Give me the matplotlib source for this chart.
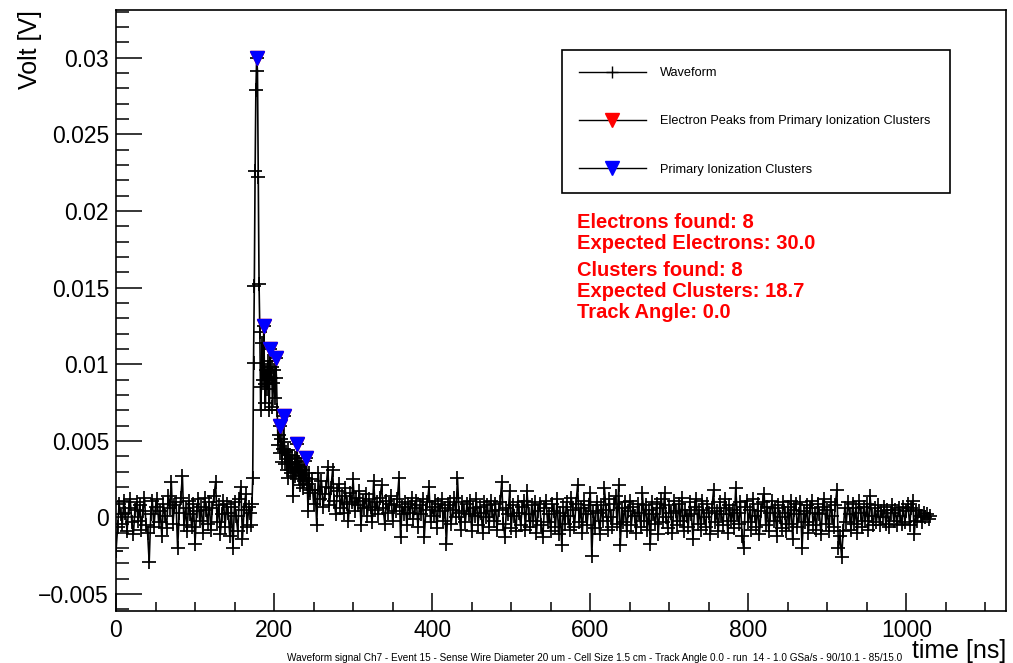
import matplotlib
matplotlib.use("Agg")
import matplotlib.pyplot as plt
import numpy as np
from matplotlib.lines import Line2D
from matplotlib.ticker import MultipleLocator, FuncFormatter

plt.rcParams['font.family'] = ['Liberation Sans', 'DejaVu Sans']

# waveform values in mV: 2 ns steps before/after the pulse, 1 ns steps around it
t_pre = np.arange(0, 170, 2)
v_pre = [
    -2.2, -0.6, 0.9, 0.2, -0.4, 1.1, 0.3, -0.9, 0.6, 1.2, -0.3, -1.1, 0.5, 1.0, -0.2, 0.8, -0.8, 0.4, 1.3, -0.5,
    -1.0, -2.9, 0.2, 1.1, -0.6, 0.7, 1.2, -0.3, 0.4, -1.2, 0.9, 0.1, -0.7, 1.4, 0.6, 2.3, -0.4, 0.8, 1.0, -2.0,
    0.3, 1.3, 2.7, -0.5, 0.6, -0.9, 1.1, 0.2, -0.6, 0.9, -1.7, 0.4, 1.2, -0.2, 0.7, -1.0, 1.3, 0.5, -0.4, 1.0,
    -0.8, 0.6, 1.4, 2.3, -0.3, 0.8, -1.1, 0.2, 1.1, -0.6, 0.9, 0.3, -1.2, 0.7, -2.0, 1.0, 0.1, -0.9, 1.2, 2.0,
    -1.4, 0.5, 1.5, -0.6, 0.7,
]
t_pulse = np.arange(170, 246, 1)
v_pulse = [
    0.3, -0.5, 0.9, 2.6, 10.1, 15.1, 22.6, 27.9, 30.0, 29.1,
    22.2, 15.2, 12.1, 7.0, 8.5, 11.4, 9.0, 12.5, 8.7, 7.5,
    9.6, 8.4, 10.2, 9.0, 7.0, 11.0, 9.1, 9.8, 7.2, 8.8,
    9.6, 7.8, 10.4, 9.1, 7.0, 4.7, 5.4, 6.0, 4.2, 5.1,
    3.6, 4.5, 6.6, 4.9, 3.5, 4.3, 3.1, 4.4, 2.6, 3.8,
    4.1, 2.9, 3.5, 4.0, 1.4, 3.2, 2.7, 3.9, 3.0, 4.8,
    3.3, 2.5, 3.6, 2.1, 3.4, 2.8, 1.9, 3.1, 2.4, 3.7,
    2.6, 3.9, 2.2, 0.4, 2.9, 1.8,
]
t_post = np.arange(246, 1031, 2)
v_post = [
    1.6, 2.5, 0.9, 1.8, -0.5, 2.9, 1.2, 2.4, 0.7, 1.5, 2.0, 3.3, 0.8, 1.9, 3.1, 1.1, 0.2, 1.7, 2.2, 0.6,
    1.4, 0.3, 1.9, 0.9, -0.2, 1.6, 1.0, 2.5, 0.4, 1.3, 0.8, 1.7, -0.5, 1.1, 0.6, 1.5, 0.1, 1.2, 0.7, -0.3,
    2.4, 0.5, 1.0, 0.2, 1.3, 2.1, 0.6, -0.4, 1.1, 0.3, 0.9, 1.4, -0.2, 0.8, 0.4, 1.2, 2.6, -1.3, 0.7, 0.2,
    1.0, -0.5, 0.9, 0.3, 1.3, -0.1, 0.6, 1.1, -0.6, 0.8, 0.2, 1.2, -1.3, 0.5, 1.0, 2.0, -0.3, 0.7, 0.1, 1.1,
    -0.7, 0.9, 0.4, 1.2, -0.2, 0.6, -1.7, 0.8, 1.0, -0.4, 0.5, 1.3, 0.0, 2.6, 0.3, -0.8, 1.0, 0.4, -0.3, 0.9,
    0.2, 1.1, -0.9, 0.6, 0.1, 1.2, -0.5, 0.7, 0.3, -1.0, 1.0, 0.0, 0.8, -0.6, 1.1, 0.4, -0.2, 0.9, -0.8, 0.5,
    1.0, 2.3, -0.4, -1.3, 0.6, 0.2, 1.7, -0.7, 0.8, 0.1, -0.9, 1.0, 0.3, -0.5, 0.7, 1.1, -0.8, 1.7, 0.2, -0.6,
    0.8, -0.2, 1.0, -1.0, 0.4, 0.9, -0.5, -1.3, 0.6, 1.1, -0.3, 0.2, -0.9, 0.9, 0.4, -0.6, 1.2, -1.1, 0.3, -1.8,
    0.7, -0.4, 1.0, 0.1, -0.8, 1.3, 0.5, -0.6, 0.9, 2.1, -0.3, 0.6, -1.0, 1.1, 0.2, -0.5, 0.8, 1.6, -2.5, 0.4,
    -0.7, 1.0, 0.3, -1.1, 0.8, -0.2, 1.9, 0.5, -0.8, 1.2, 0.0, -0.6, 0.9, 1.4, -0.4, 2.1, -1.8, 0.6, -0.3, 1.0,
    -0.9, 0.4, 1.1, -0.5, 0.7, 0.1, -1.0, 0.9, 0.3, -0.6, 1.6, -0.2, 0.8, -0.8, 0.5, -1.7, 1.0, 0.2, -0.4, 0.9,
    -1.1, 0.6, 1.2, -0.3, 1.6, 0.0, -0.7, 0.8, 0.3, -1.0, 1.1, 0.4, -0.5, 0.9, -0.2, 1.3, -0.9, 0.5, 0.1, -0.6,
    1.0, 0.2, -1.4, 0.7, 1.2, -0.4, 0.5, -0.8, 1.1, 0.0, -0.6, 0.9, 0.3, -1.1, 0.6, 1.8, -0.3, 0.4, -0.9, 1.0,
    0.2, -0.5, 1.2, 0.6, -1.0, 0.8, -0.2, 0.5, -0.7, 1.9, 0.3, -0.4, 1.0, -1.2, -2.0, 0.7, 1.1, -0.3, 0.5, -0.8,
    1.2, 0.1, -0.6, 0.9, -1.1, 0.4, 1.0, 1.5, -0.5, 0.7, -0.9, 0.3, 1.1, -0.2, 0.6, -1.2, 0.8, 0.0, -0.7, 1.0,
    0.3, -0.9, 0.7, -0.4, 1.1, -1.4, 0.5, 0.9, -0.6, 0.2, 1.0, -2.0, 0.4, -0.3, 0.8, -1.0, 0.6, 1.1, -0.5, 0.3,
    -0.8, 0.9, 0.2, -1.1, 0.7, 1.2, -0.4, 0.5, -0.9, 1.0, 0.1, -0.6, 0.8, 1.8, -2.0, -1.2, -2.6, -0.9, 0.6, -0.3,
    1.0, 0.2, -0.8, 0.9, -0.4, 0.6, -1.0, 1.1, 0.3, -0.6, 0.7, -0.2, 0.9, -0.8, 1.4, 0.1, -0.5, 0.6, -0.3, 0.8,
    -0.5, 0.4, 0.0, 0.7, -0.4, 0.5, -0.6, 0.3, 0.8, -0.2, 0.5, -0.5, 0.6, 0.1, -0.4, 0.7, -0.3, 0.4, 0.9, -0.5,
    0.6, 1.1, -1.1, 0.5, -0.2, 0.4, 0.1, -0.3, 0.3, 0.0, 0.2, -0.1, 0.1,
]

# found peaks (time ns, amplitude mV)
cluster_t = [178, 187, 195, 202, 207, 212, 229, 241]
cluster_v = [30.0, 12.5, 11.0, 10.4, 6.0, 6.6, 4.8, 3.9]
electron_t = cluster_t
electron_v = cluster_v

labels = ["Waveform", "Electron Peaks from Primary Ionization Clusters", "Primary Ionization Clusters"]
info_lines = ["Electrons found: 8", "Expected Electrons: 30.0", "Clusters found: 8",
              "Expected Clusters: 18.7", "Track Angle: 0.0"]
info_y = [0.646, 0.612, 0.567, 0.532, 0.496]
bottom_title = ("Waveform signal Ch7 - Event 15 - Sense Wire Diameter 20 um - Cell Size 1.5 cm - "
                "Track Angle 0.0 - run  14 - 1.0 GSa/s - 90/10.1 - 85/15.0")

t = np.concatenate([t_pre, t_pulse, t_post])
v = np.concatenate([v_pre, v_pulse, v_post]) / 1000.0

fig = plt.figure(figsize=(10.13, 6.63), dpi=100)
ax = fig.add_axes([0.1145, 0.0784, 0.8786, 0.9065])

ax.plot(t, v, color='k', lw=1.2, marker='+', ms=9.5, mew=1.25)
ax.plot(electron_t, np.array(electron_v) / 1000.0, ls='none', marker='v', color='red', ms=10, zorder=3)
ax.plot(cluster_t, np.array(cluster_v) / 1000.0, ls='none', marker='v', color='blue', ms=10, zorder=4)

ax.set_xlim(0, 1126)
ax.set_ylim(-0.0061, 0.0331)

ax.xaxis.set_major_locator(MultipleLocator(200))
ax.xaxis.set_minor_locator(MultipleLocator(50))
ax.yaxis.set_major_locator(MultipleLocator(0.005))
ax.yaxis.set_minor_locator(MultipleLocator(0.001))


def yfmt(x, pos):
    s = '%g' % round(x, 6)
    if s == '-0':
        s = '0'
    return s.replace('-', '\u2212')


ax.yaxis.set_major_formatter(FuncFormatter(yfmt))
ax.tick_params(which='both', direction='in', top=False, right=False, width=1.1, labelsize=16.5)
ax.tick_params(axis='x', which='major', length=13, pad=6)
ax.tick_params(axis='x', which='minor', length=6.5)
ax.tick_params(axis='y', which='major', length=19, pad=5)
ax.tick_params(axis='y', which='minor', length=9.5)
for sp in ax.spines.values():
    sp.set_linewidth(1.2)

ax.set_ylabel("Volt [V]", fontsize=18, loc='top')
ax.yaxis.set_label_coords(-0.083, 1.0)
ax.set_xlabel("time [ns]", fontsize=18, loc='right')
ax.xaxis.set_label_coords(1.0, -0.047)

handles = [
    Line2D([], [], color='k', lw=1, marker='+', ms=9, mew=1),
    Line2D([], [], color='k', lw=1, marker='v', mfc='red', mec='red', ms=10),
    Line2D([], [], color='k', lw=1, marker='v', mfc='blue', mec='blue', ms=10),
]
leg = ax.legend(handles, labels, loc='center', bbox_to_anchor=(0.501, 0.689, 0.436, 0.251),
                mode='expand', borderaxespad=0, fontsize=9.2, labelspacing=2.85,
                handlelength=5.2, handletextpad=1.1, borderpad=1.35, fancybox=False,
                framealpha=1, edgecolor='k', numpoints=1)
leg.get_frame().set_linewidth(1.2)

for line, y in zip(info_lines, info_y):
    ax.text(0.518, y, line, transform=ax.transAxes, color='red', fontweight='bold',
            fontsize=14.5, va='center')

fig.text(0.587, 0.0075, bottom_title, fontsize=7.2, ha='center', va='center')

fig.savefig('out.png', dpi=100)
